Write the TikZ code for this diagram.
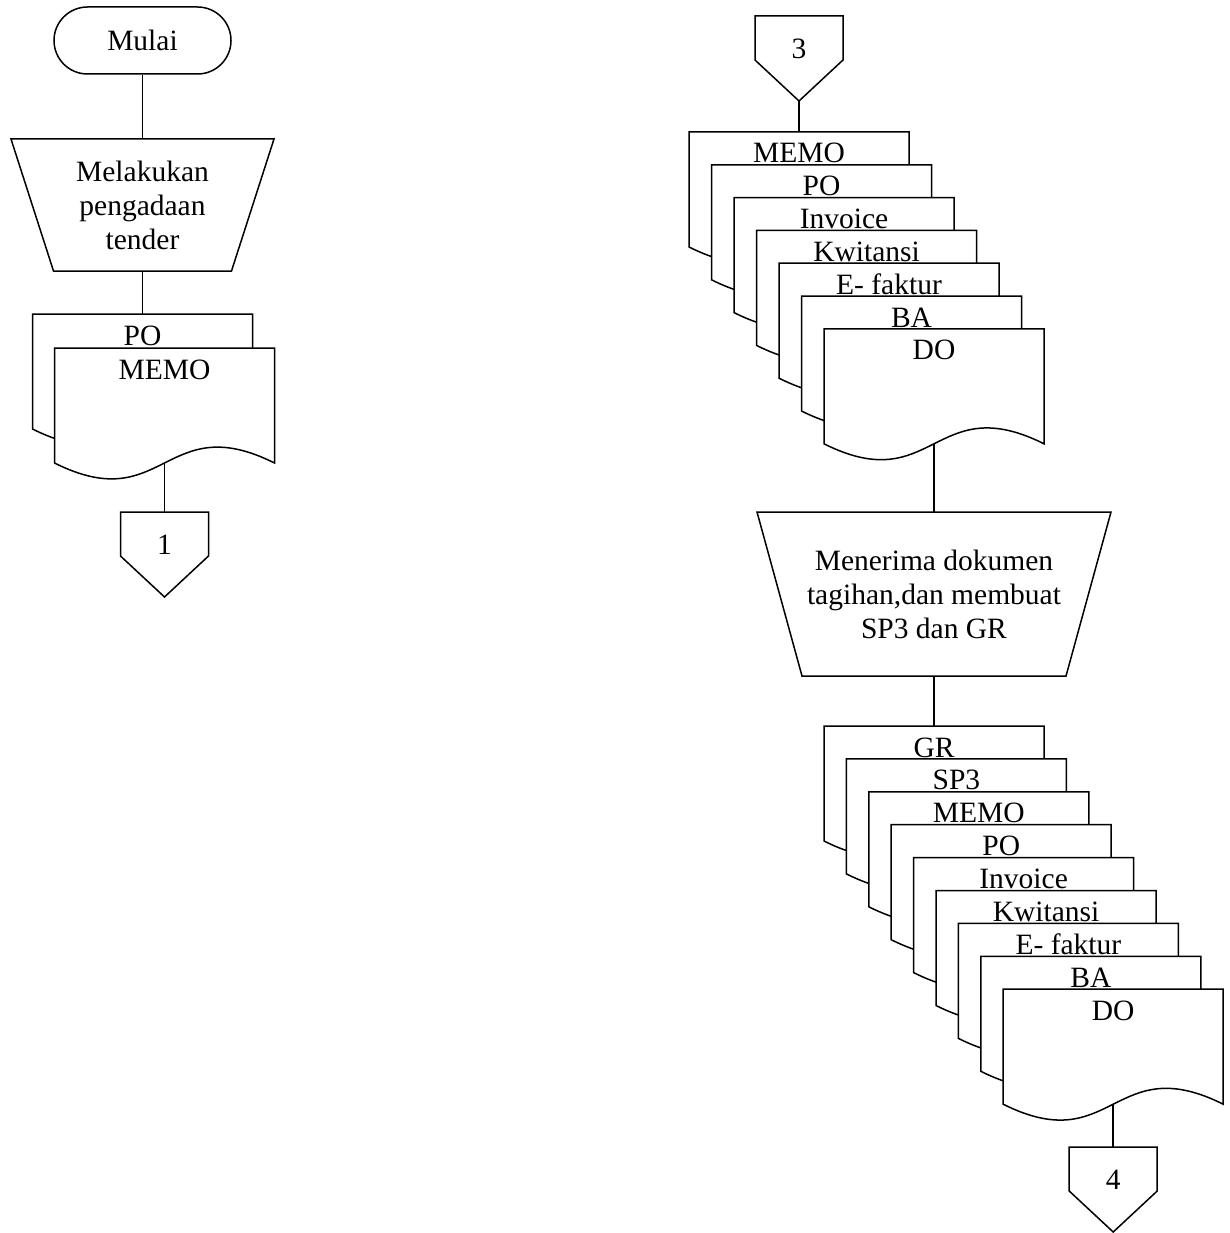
\documentclass[tikz,border=0pt]{standalone}
\usepackage{fontspec}
\setmainfont{Liberation Serif}
\usetikzlibrary{shapes.misc}

\tikzset{
  shapeline/.style={draw, line width=1.5pt, fill=white},
  link/.style={line width=1.5pt},
  terminal/.style={rounded rectangle, shapeline, minimum width=177pt,
    minimum height=67pt, inner sep=0pt},
  optext/.style={inner sep=0pt, align=center},
  doclabel/.style={anchor=base, inner sep=0pt},
}

% document symbol: name, left x, top y, label
\newcommand\docpage[4]{%
  \pgfmathsetmacro\dR{#2+220}\pgfmathsetmacro\dM{#2+110}%
  \pgfmathsetmacro\dB{#3+115}%
  \pgfmathsetmacro\dU{#3+115-55}\pgfmathsetmacro\dD{#3+115+55}%
  \draw[shapeline] (#2,#3) -- (\dR,#3) -- (\dR,\dB)
    .. controls (\dM,\dU) and (\dM,\dD) .. (#2,\dB) -- cycle;
  \node[doclabel] (#1) at (\dM,#3+31) {#4};
  \coordinate (#1-top) at (\dM,#3);
  \coordinate (#1-bot) at (\dM,\dB);
}

% off-page connector: name, centre x, top y, label
\newcommand\offpage[4]{%
  \pgfmathsetmacro\oL{#2-44}\pgfmathsetmacro\oR{#2+44}%
  \pgfmathsetmacro\oS{#3+44}\pgfmathsetmacro\oT{#3+85}%
  \draw[shapeline] (\oL,#3) -- (\oR,#3) -- (\oR,\oS) -- (#2,\oT)
    -- (\oL,\oS) -- cycle;
  \node[anchor=base, inner sep=0pt] (#1) at (#2,#3+42.5) {#4};
  \coordinate (#1-top) at (#2,#3);
  \coordinate (#1-tip) at (#2,\oT);
}

% manual operation (inverted trapezium):
% name, centre x, top y, top width, bottom width, height, text
\newcommand\manualop[7]{%
  \pgfmathsetmacro\mA{#2-#4/2}\pgfmathsetmacro\mB{#2+#4/2}%
  \pgfmathsetmacro\mC{#2+#5/2}\pgfmathsetmacro\mD{#2-#5/2}%
  \pgfmathsetmacro\mY{#3+#6}\pgfmathsetmacro\mM{#3+#6/2}%
  \draw[shapeline] (\mA,#3) -- (\mB,#3) -- (\mC,\mY) -- (\mD,\mY) -- cycle;
  \node[optext] (#1) at (#2,\mM) {#7};
  \coordinate (#1-top) at (#2,#3);
  \coordinate (#1-bot) at (#2,\mY);
}

\begin{document}
\begin{tikzpicture}[x=1pt, y=-1pt, font=\fontsize{29.5}{34}\selectfont]
\useasboundingbox (0,0) rectangle (1229,1233);

% ---- left column ----
\node[terminal] (start) at (142.5,40.5) {Mulai};
\manualop{tender}{142.5}{139}{263}{178}{132}{Melakukan\\pengadaan\\tender}
\docpage{poA}{32.5}{314}{PO}
\docpage{memoA}{54.5}{348}{MEMO}
\offpage{c1}{164.5}{512}{1}

% ---- right column ----
\offpage{c3}{799}{16}{3}
\docpage{memoB}{689}{132}{MEMO}
\docpage{poB}{711.5}{164.8}{PO}
\docpage{invB}{734}{197.6}{Invoice}
\docpage{kwB}{756.5}{230.4}{Kwitansi}
\docpage{efB}{779}{263.2}{E- faktur}
\docpage{baB}{801.5}{296}{BA}
\docpage{doB}{824}{328.8}{DO}

\manualop{terima}{934}{512}{354}{264}{164}{Menerima dokumen\\tagihan,dan membuat\\SP3 dan GR}

\docpage{grC}{824}{726}{GR}
\docpage{spC}{846.4}{758.9}{SP3}
\docpage{memoC}{868.8}{791.8}{MEMO}
\docpage{poC}{891.2}{824.7}{PO}
\docpage{invC}{913.6}{857.6}{Invoice}
\docpage{kwC}{936}{890.5}{Kwitansi}
\docpage{efC}{958.4}{923.4}{E- faktur}
\docpage{baC}{980.8}{956.3}{BA}
\docpage{doC}{1003.2}{989.2}{DO}
\offpage{c4}{1113.2}{1147}{4}

% ---- flow lines ----
\draw[link] (start.south) -- (tender-top);
\draw[link] (tender-bot) -- (poA-top);
\draw[link] (memoA-bot) -- (c1-top);
\draw[link] (c3-tip) -- (memoB-top);
\draw[link] (doB-bot) -- (terima-top);
\draw[link] (terima-bot) -- (grC-top);
\draw[link] (doC-bot) -- (c4-top);
\end{tikzpicture}
\end{document}
